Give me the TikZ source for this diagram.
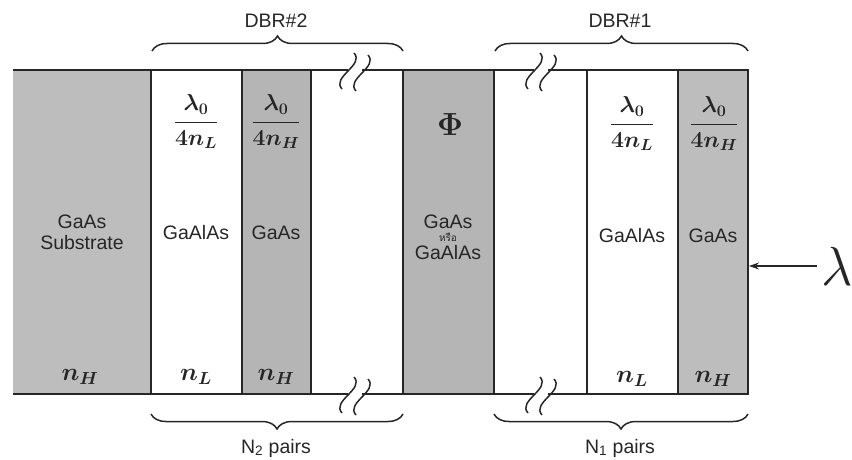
\documentclass[tikz,border=0pt]{standalone}
\usepackage{fix-cm}
\usepackage{fontspec}
\setmainfont{Liberation Sans}
\newfontfamily\thaifont[Script=Thai]{Loma}
\usetikzlibrary{decorations.pathreplacing,arrows.meta}
\definecolor{gsub}{gray}{0.74}
\definecolor{gmid}{gray}{0.71}
\definecolor{ink}{gray}{0.15}
\newcommand\brkS[2]{\draw[brkline,shift={(#1,#2)}] (6,-18) .. controls (17,-6) and (-17,6) .. (-6,18);}
\begin{document}
\begin{tikzpicture}[x=1pt,y=-1pt,
  edge/.style={draw=ink,line width=1.6pt},
  brkline/.style={draw=ink,line width=1.5pt},
  lbl/.style={text=ink,font=\fontsize{19.5}{22}\selectfont,inner sep=0pt},
  frac/.style={text=ink,font=\fontsize{23}{26}\selectfont\boldmath,inner sep=0pt},
  nlab/.style={text=ink,font=\fontsize{25}{28}\selectfont\boldmath,inner sep=0pt},
  brace/.style={draw=ink,line width=1.5pt,decorate,decoration={brace,amplitude=15pt,aspect=0.5}},
  thai/.style={text=ink,font=\thaifont\fontsize{10}{12}\selectfont,inner sep=0pt}]
\useasboundingbox (0,0) rectangle (852,460);
% layers
\fill[gsub] (13,70) rectangle (151,394);
\fill[gmid] (242,70) rectangle (311,394);
\fill[gmid] (403,70) rectangle (494,394);
\fill[gsub] (678,70) rectangle (748,394);
% outline
\draw[edge] (13,70) -- (348,70);
\draw[edge] (362,70) -- (534,70);
\draw[edge] (548,70) -- (748,70) -- (748,394) -- (548,394);
\draw[edge] (534,394) -- (362,394);
\draw[edge] (348,394) -- (13,394);
\foreach \x in {151,242,311,403,494,587,678} \draw[edge] (\x,70) -- (\x,394);
% breaks
\brkS{348}{71}\brkS{362}{73}
\brkS{348}{395}\brkS{362}{397}
\brkS{534}{71}\brkS{548}{73}
\brkS{534}{395}\brkS{548}{397}
% braces
\draw[brace] (152,51) -- (403,51);
\draw[brace] (495,51) -- (748,51);
\draw[brace] (403,414) -- (151,414);
\draw[brace] (748,414) -- (494,414);
\node[lbl] (dbr2) at (276,21) {DBR\#2};
\node[lbl] (dbr1) at (620,21) {DBR\#1};
\node[lbl] (n2) at (276,448) {N\textsubscript{2} pairs};
\node[lbl] (n1) at (620,448) {N\textsubscript{1} pairs};
% texts
\node[lbl,align=center] (sub) at (82,232) {GaAs\\[-1pt]Substrate};
\node[lbl] (al1) at (196,233) {GaAlAs};
\node[lbl] (ga1) at (276,233) {GaAs};
\node[lbl] (ph1) at (448,222) {GaAs};
\node[thai] (or) at (448,237) {หรือ};
\node[lbl] (ph2) at (448,253) {GaAlAs};
\node[lbl] (al2) at (632,236) {GaAlAs};
\node[lbl] (ga2) at (713,236) {GaAs};
\node[frac] (f1) at (196,122) {$\displaystyle\frac{\lambda_0}{4n_L}$};
\node[frac] (f2) at (276,122) {$\displaystyle\frac{\lambda_0}{4n_H}$};
\node[frac] (f3) at (632,124) {$\displaystyle\frac{\lambda_0}{4n_L}$};
\node[frac] (f4) at (714,124) {$\displaystyle\frac{\lambda_0}{4n_H}$};
\node[text=ink,font=\fontsize{32}{34}\selectfont\boldmath,inner sep=0pt] (phi) at (450,125) {$\Phi$};
\node[nlab] (b1) at (80,377) {$n_H$};
\node[nlab] (b2) at (196,377) {$n_L$};
\node[nlab] (b3) at (276,377) {$n_H$};
\node[nlab] (b4) at (632,379) {$n_L$};
\node[nlab] (b5) at (713,379) {$n_H$};
% incident light
\coordinate (inc) at (749,266);
\node[text=ink,font=\fontsize{55}{56}\selectfont,inner sep=0pt] (lam) at (837,266) {$\lambda$};
\draw[ink,line width=1.3pt,-{Stealth[length=10pt,width=7pt]}] (817,266) -- (inc);
\end{tikzpicture}
\end{document}
